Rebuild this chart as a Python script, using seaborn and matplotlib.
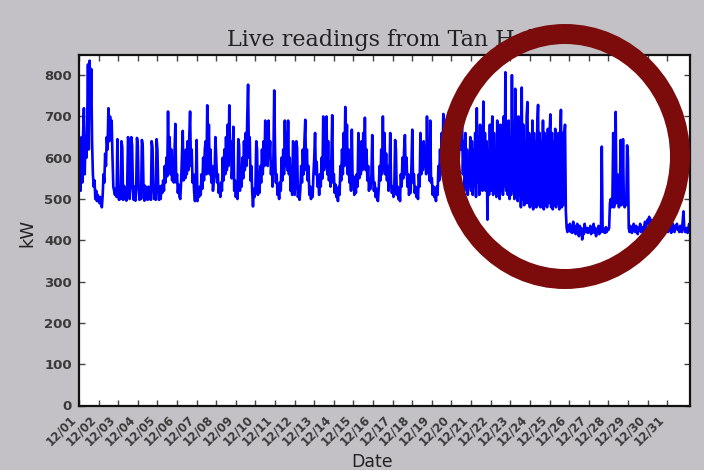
import numpy as np
import pandas as pd
import matplotlib
matplotlib.use("Agg")
import matplotlib.pyplot as plt
import matplotlib.dates as mdates
from matplotlib.patches import Ellipse
import seaborn as sns

# ---------------- data (hourly kW readings) ----------------
start_time = "2014-12-01 00:00"

week1_kw = [  # 12/01 - 12/07
    550, 630, 520, 650, 540, 660, 720, 560, 650, 600, 680, 826, 620, 835, 700, 815, 640, 560, 530, 545, 500, 520, 495, 510,
    500, 490, 505, 488, 480, 510, 560, 540, 610, 580, 650, 620, 720, 640, 700, 660, 690, 600, 530, 520, 510, 525, 505, 645,
    525, 498, 530, 500, 640, 625, 498, 532, 500, 528, 496, 530, 650, 635, 500, 532, 650, 630, 528, 498, 530, 496, 525, 648,
    630, 530, 498, 528, 500, 643, 630, 525, 496, 532, 500, 528, 498, 530, 500, 526, 498, 640, 625, 530, 500, 532, 498, 645,
    620, 525, 498, 530, 500, 532, 515, 545, 520, 580, 540, 600, 555, 712, 570, 650, 560, 620, 545, 600, 540, 620, 682, 540,
    560, 515, 535, 505, 500, 540, 600, 665, 545, 600, 550, 620, 560, 640, 570, 650, 712, 580, 620, 540, 560, 515, 495, 530,
    643, 495, 525, 505, 530, 510, 560, 525, 600, 545, 620, 640, 560, 727, 570, 680, 560, 620, 540, 580, 520, 545, 560, 650,
]
week2_kw = [  # 12/08 - 12/14
    600, 540, 560, 515, 530, 505, 540, 520, 600, 545, 620, 560, 650, 570, 680, 580, 727, 600, 640, 550, 580, 675, 520, 545,
    505, 530, 500, 645, 630, 520, 560, 530, 600, 550, 640, 570, 660, 580, 700, 777, 600, 650, 545, 580, 520, 482, 525, 505,
    530, 640, 620, 510, 540, 515, 580, 540, 620, 560, 640, 580, 690, 590, 660, 580, 690, 600, 640, 560, 590, 530, 600, 763,
    620, 540, 560, 510, 530, 500, 540, 520, 600, 545, 620, 560, 690, 580, 660, 570, 690, 560, 600, 520, 545, 510, 640, 630,
    510, 535, 640, 625, 505, 530, 498, 525, 580, 540, 620, 560, 640, 692, 570, 620, 545, 580, 510, 530, 500, 525, 505, 560,
    600, 660, 560, 590, 530, 550, 510, 560, 530, 600, 550, 700, 570, 680, 580, 700, 560, 640, 545, 590, 530, 600, 703, 540,
    560, 515, 535, 505, 525, 495, 530, 510, 580, 545, 620, 560, 660, 580, 723, 590, 680, 560, 620, 540, 570, 520, 668, 540,
]
week3_kw = [  # 12/15 - 12/21
    555, 510, 530, 515, 560, 530, 660, 550, 620, 560, 640, 570, 660, 580, 697, 570, 620, 545, 580, 520, 550, 525, 560, 655,
    560, 520, 540, 505, 525, 500, 495, 530, 580, 545, 620, 560, 700, 570, 660, 560, 610, 545, 580, 520, 550, 660, 540, 515,
    530, 505, 525, 643, 620, 510, 530, 500, 525, 495, 560, 530, 600, 550, 620, 655, 560, 600, 530, 560, 510, 530, 515, 580,
    668, 540, 560, 515, 530, 505, 525, 500, 560, 530, 660, 560, 620, 570, 640, 580, 620, 560, 700, 570, 620, 545, 690, 540,
    550, 510, 530, 505, 520, 495, 530, 510, 580, 545, 620, 560, 660, 580, 706, 600, 680, 580, 660, 560, 640, 545, 620, 530,
    540, 520, 510, 530, 520, 540, 580, 560, 620, 600, 660, 620, 680, 690, 560, 640, 520, 660, 540, 620, 510, 600, 530, 650,
    520, 640, 510, 620, 530, 660, 505, 720, 540, 650, 510, 680, 530, 640, 520, 736, 560, 660, 520, 640, 450, 620, 510, 680,
]
week4_kw = [  # 12/22 - 12/28
    520, 640, 700, 510, 660, 530, 620, 505, 690, 540, 650, 500, 680, 520, 640, 510, 700, 530, 807, 520, 660, 510, 690, 500,
    640, 510, 800, 520, 680, 500, 767, 520, 660, 495, 700, 510, 650, 480, 770, 500, 680, 485, 640, 490, 700, 735, 490, 660,
    480, 650, 485, 690, 475, 660, 490, 640, 480, 680, 728, 485, 660, 480, 640, 490, 690, 475, 660, 485, 650, 480, 670, 490,
    650, 705, 480, 660, 475, 640, 485, 670, 480, 650, 490, 660, 475, 640, 716, 480, 660, 485, 650, 680, 470, 430, 420, 435,
    425, 440, 420, 432, 418, 445, 428, 435, 415, 430, 440, 425, 410, 435, 420, 430, 402, 425, 415, 440, 425, 420, 430, 418,
    428, 420, 435, 415, 430, 425, 440, 418, 430, 410, 425, 420, 435, 415, 428, 420, 627, 430, 420, 425, 418, 432, 420, 428,
    425, 430, 490, 500, 480, 495, 660, 480, 500, 711, 490, 560, 500, 480, 495, 643, 485, 500, 645, 490, 480, 500, 485, 630,
]
week5_kw = [  # 12/29 - 01/01 early morning
    600, 430, 420, 435, 425, 418, 430, 440, 425, 420, 435, 428, 415, 430, 425, 440, 420, 432, 425, 418, 435, 445, 430, 440,
    450, 440, 457, 445, 450, 435, 440, 430, 445, 425, 438, 430, 420, 440, 428, 435, 420, 430, 425, 440, 418, 430, 425, 435,
    430, 420, 440, 425, 435, 418, 430, 440, 425, 420, 435, 428, 440, 425, 430, 420, 435, 428, 420, 445, 470, 430, 420, 425,
    430, 418, 428, 440, 420,
]

y_ticks = [0, 100, 200, 300, 400, 500, 600, 700, 800]
title_text = "Live readings from Tan Hall"
x_label = "Date"
y_label = "kW"

# ---------------- build frame ----------------
kw = week1_kw + week2_kw + week3_kw + week4_kw + week5_kw
times = pd.date_range(start_time, periods=len(kw), freq="h")
df = pd.DataFrame({"Date": times, "kW": kw})

# ---------------- figure ----------------
fig = plt.figure(figsize=(7.04, 4.70), dpi=100, facecolor="#c3c1c5")
ax = fig.add_axes([79 / 704, 1 - 405.5 / 470, 611 / 704, 351 / 470])
ax.set_facecolor("white")

sns.lineplot(data=df, x="Date", y="kW", ax=ax, color="#0000ff",
             linewidth=1.9, estimator=None, sort=False)

ax.set_xlim(pd.Timestamp("2014-12-01 00:00"), pd.Timestamp("2015-01-01 04:00"))
ax.set_ylim(0, 850)
ax.set_yticks(y_ticks)

day_ticks = pd.date_range("2014-12-01", "2014-12-31", freq="D")
ax.set_xticks(mdates.date2num(day_ticks))
ax.xaxis.set_major_formatter(mdates.DateFormatter("%m/%d"))

for lbl in ax.get_xticklabels():
    lbl.set_rotation(45)
    lbl.set_ha("right")
    lbl.set_fontsize(8.5)
    lbl.set_fontweight("bold")
    lbl.set_color("#3a3a3a")
for lbl in ax.get_yticklabels():
    lbl.set_fontsize(9.5)
    lbl.set_fontweight("bold")
    lbl.set_color("#3a3a3a")

ax.tick_params(axis="both", direction="in", length=4, width=1, color="#444444",
               top=True, right=True, pad=5)
for sp in ax.spines.values():
    sp.set_color("#111111")
    sp.set_linewidth(1.6)

ax.set_title(title_text, fontsize=16, family="DejaVu Serif", color="#222222", pad=6)
ax.set_xlabel(x_label, fontsize=12.5, color="#222222")
ax.set_ylabel(y_label, fontsize=13, color="#222222")
ax.xaxis.set_label_coords(0.48, -0.135)
ax.yaxis.set_label_coords(-0.069, 0.493)

# red highlight circle drawn over the figure
ring = Ellipse((565 / 704, 1 - 156.5 / 470), 230 / 704, 245 / 470,
               transform=fig.transFigure, fill=False, edgecolor="#7c0b0b",
               linewidth=14.4, zorder=10)
fig.add_artist(ring)

fig.savefig("out.png", dpi=100, facecolor=fig.get_facecolor())
